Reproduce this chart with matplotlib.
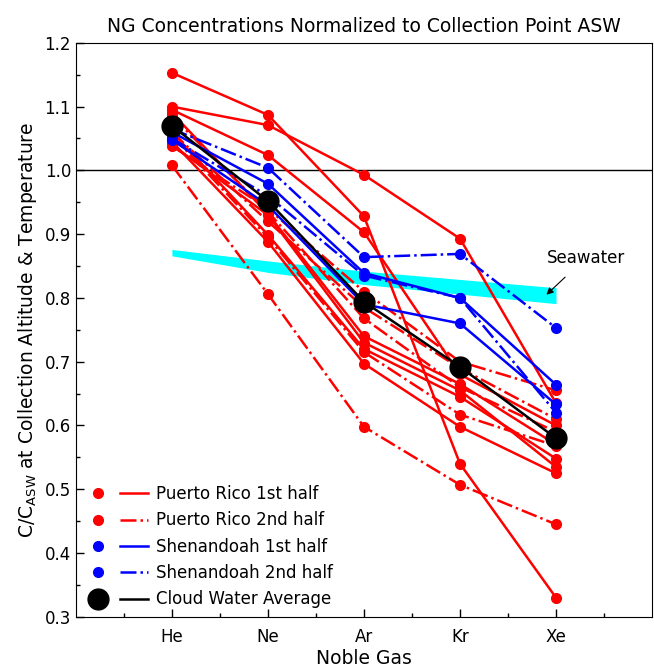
import matplotlib
matplotlib.use("Agg")
import matplotlib.pyplot as plt
from matplotlib.lines import Line2D
from matplotlib.legend_handler import HandlerTuple

gases = ["He", "Ne", "Ar", "Kr", "Xe"]

# Puerto Rico 1st half (solid red)
pr1 = [
    [1.153, 1.087, 0.928, 0.540, 0.330],
    [1.100, 1.071, 0.993, 0.893, 0.635],
    [1.095, 1.024, 0.903, 0.680, 0.600],
    [1.090, 0.932, 0.740, 0.665, 0.570],
    [1.060, 0.899, 0.720, 0.645, 0.548],
    [1.045, 0.888, 0.697, 0.598, 0.525],
    [1.040, 0.930, 0.730, 0.655, 0.535],
]
# Puerto Rico 2nd half (dash-dot red)
pr2 = [
    [1.008, 0.806, 0.598, 0.507, 0.445],
    [1.038, 0.940, 0.810, 0.700, 0.655],
    [1.060, 0.920, 0.785, 0.690, 0.610],
    [1.055, 0.895, 0.715, 0.617, 0.568],
    [1.085, 0.935, 0.768, 0.660, 0.590],
]
# Shenandoah 1st half (solid blue)
sh1 = [
    [1.060, 0.979, 0.839, 0.800, 0.664],
    [1.048, 0.945, 0.790, 0.760, 0.633],
]
# Shenandoah 2nd half (dash-dot blue)
sh2 = [
    [1.065, 1.004, 0.864, 0.869, 0.753],
    [1.050, 0.960, 0.835, 0.800, 0.620],
]
# Cloud water average
avg = [1.070, 0.952, 0.794, 0.692, 0.580]

# Seawater band
sw_upper = [0.876, 0.858, 0.842, 0.829, 0.816]
sw_lower = [0.866, 0.840, 0.821, 0.806, 0.791]

x = list(range(1, len(gases) + 1))

fig = plt.figure(figsize=(6.54, 6.69), dpi=100)
ax = fig.add_axes([0.116, 0.078, 0.881, 0.858])

ax.fill_between(x, sw_lower, sw_upper, color="#00FFFF", lw=0, zorder=1)
ax.axhline(1.0, color="black", lw=1.0, zorder=2)

red = "#FF0000"
blue = "#0000FF"
lw = 1.8
ms = 7
for s in pr1:
    ax.plot(x, s, color=red, ls="-", lw=lw, marker="o", ms=ms, zorder=3)
for s in pr2:
    ax.plot(x, s, color=red, ls="-.", lw=lw, marker="o", ms=ms, zorder=3)
for s in sh1:
    ax.plot(x, s, color=blue, ls="-", lw=lw, marker="o", ms=ms, zorder=4)
for s in sh2:
    ax.plot(x, s, color=blue, ls="-.", lw=lw, marker="o", ms=ms, zorder=4)
ax.plot(x, avg, color="black", ls="-", lw=lw, marker="o", ms=15, zorder=5)

ax.annotate("Seawater", xy=(4.9, 0.805), xytext=(5.31, 0.863),
            ha="center", va="center", fontsize=12,
            arrowprops=dict(arrowstyle="-|>", color="black", lw=0.8,
                            mutation_scale=10, shrinkA=8, shrinkB=0))

ax.set_xlim(0, 6)
ax.set_ylim(0.3, 1.2)
ax.set_xticks(x)
ax.set_xticklabels(gases)
ax.set_xticks([0.5 + i for i in range(0, 6)], minor=True)
ax.set_yticks([0.3 + 0.1 * i for i in range(10)])
ax.set_yticklabels([f"{0.3 + 0.1 * i:.1f}" for i in range(10)])
ax.set_yticks([0.35 + 0.1 * i for i in range(9)], minor=True)
ax.tick_params(direction="in", length=6, width=1, labelsize=12)
ax.tick_params(which="minor", direction="in", length=3, width=1)
ax.tick_params(axis="x", pad=8)

ax.set_title("NG Concentrations Normalized to Collection Point ASW", fontsize=13.5, pad=8)
ax.set_xlabel("Noble Gas", fontsize=13.5, labelpad=2)
ax.set_ylabel("C/C$_{\\mathrm{ASW}}$ at Collection Altitude & Temperature", fontsize=13.5)

def mk(color, ls, big=False):
    dot = Line2D([], [], color=color, marker="o", ls="none", ms=15 if big else 7)
    line = Line2D([], [], color=color, ls=ls, lw=lw)
    return (dot, line)

handles = [mk(red, "-"), mk(red, "-."), mk(blue, "-"), mk(blue, "-."), mk("black", "-", True)]
labels = ["Puerto Rico 1st half", "Puerto Rico 2nd half", "Shenandoah 1st half",
          "Shenandoah 2nd half", "Cloud Water Average"]
ax.legend(handles, labels, loc="lower left", frameon=False, fontsize=12,
          handler_map={tuple: HandlerTuple(ndivide=None, pad=0.5)},
          handlelength=3.8, labelspacing=0.5, borderaxespad=0.2, borderpad=0.3,
          handletextpad=0.5)

fig.savefig("out.png", dpi=100)
